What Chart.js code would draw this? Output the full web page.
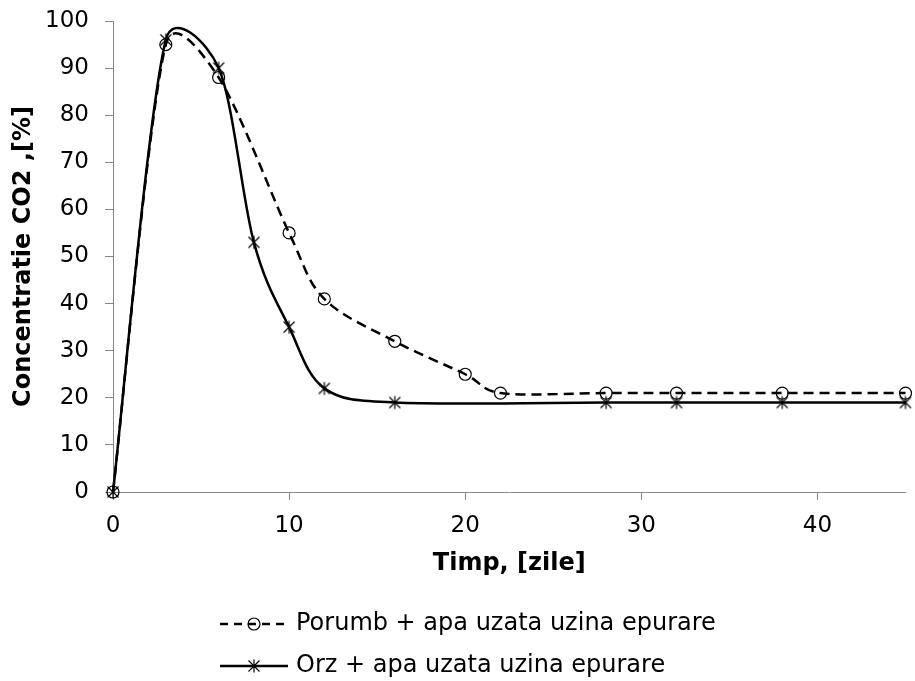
<!DOCTYPE html>
<html>
<head>
<meta charset="utf-8">
<script src="https://cdn.jsdelivr.net/npm/chart.js@4"></script>
<style>
  html, body { margin: 0; padding: 0; background: #fff; }
  #wrap { width: 915px; height: 681px; }
</style>
</head>
<body>
<div id="wrap"><canvas id="myChart" width="915" height="681"></canvas></div>
<script>
// data
var porumbX = [0, 3, 6, 10, 12, 16, 20, 22, 28, 32, 38, 45];
var porumbY = [0, 95, 88, 55, 41, 32, 25, 21, 21, 21, 21, 21];
var orzX = [0, 3, 6, 8, 10, 12, 16, 28, 32, 38, 45];
var orzY = [0, 96, 90, 53, 35, 22, 19, 19, 19, 19, 19];
var xTicks = [0, 10, 20, 30, 40];
var seriesNames = ['Porumb + apa uzata uzina epurare', 'Orz + apa uzata uzina epurare'];

function toPoints(xs, ys) {
  return xs.map(function (x, i) { return { x: x, y: ys[i] }; });
}

// excel-like star marker (x with vertical bar)
function starPath(ctx, cx, cy, r) {
  ctx.moveTo(cx - r, cy - r); ctx.lineTo(cx + r, cy + r);
  ctx.moveTo(cx + r, cy - r); ctx.lineTo(cx - r, cy + r);
  ctx.moveTo(cx, cy - r - 1); ctx.lineTo(cx, cy + r + 1);
}
function makeStar() {
  var c = document.createElement('canvas');
  c.width = 16; c.height = 16;
  var ctx = c.getContext('2d');
  ctx.strokeStyle = '#000'; ctx.lineWidth = 1.2;
  ctx.beginPath(); starPath(ctx, 8, 8, 5.5); ctx.stroke();
  return c;
}
// legend sample: line + marker
function makeLegendIcon(dashed, star) {
  var c = document.createElement('canvas');
  c.width = 68; c.height = 18;
  var ctx = c.getContext('2d');
  ctx.strokeStyle = '#000';
  ctx.lineWidth = 2.5;
  if (dashed) ctx.setLineDash([8, 6]);
  ctx.beginPath(); ctx.moveTo(0, 9); ctx.lineTo(68, 9); ctx.stroke();
  ctx.setLineDash([]);
  ctx.lineWidth = 1.2;
  ctx.beginPath();
  if (star) starPath(ctx, 34, 9, 5.5);
  else ctx.arc(34, 9, 6, 0, Math.PI * 2);
  ctx.stroke();
  return c;
}

var starImg = makeStar();
var legendIcons = [makeLegendIcon(true, false), makeLegendIcon(false, true)];

function dist(a, b) { return Math.hypot(b.x - a.x, b.y - a.y); }

// smoothing closer to the spreadsheet one (control points capped at half a segment)
var excelSmooth = {
  id: 'excelSmooth',
  beforeDatasetDraw: function (chart, args) {
    var meta = args.meta;
    var line = meta.dataset;
    if (!line) return;
    line.updateControlPoints(chart.chartArea, meta.iScale.axis);
    var pts = meta.data;
    for (var i = 0; i < pts.length - 1; i++) {
      var p0 = pts[i - 1] || pts[i], p1 = pts[i], p2 = pts[i + 1], p3 = pts[i + 2] || pts[i + 1];
      var d12 = dist(p1, p2), d02 = dist(p0, p2), d13 = dist(p1, p3);
      var f1 = (d02 / 6 < d12 / 2) ? 1 / 6 : d12 / (2 * d02);
      var f2 = (d13 / 6 < d12 / 2) ? 1 / 6 : d12 / (2 * d13);
      p1.cp2x = p1.x + (p2.x - p0.x) * f1;
      p1.cp2y = p1.y + (p2.y - p0.y) * f1;
      p2.cp1x = p2.x - (p3.x - p1.x) * f2;
      p2.cp1y = p2.y - (p3.y - p1.y) * f2;
    }
    line._path = undefined;
  }
};

// two-row legend under the axis title
var excelLegend = {
  id: 'excelLegend',
  afterDraw: function (chart) {
    var ctx = chart.ctx;
    var area = chart.chartArea;
    ctx.save();
    ctx.font = '24px "DejaVu Sans"';
    ctx.fillStyle = '#000';
    ctx.textBaseline = 'middle';
    var maxW = 0;
    seriesNames.forEach(function (s) { maxW = Math.max(maxW, ctx.measureText(s).width); });
    var iconW = 68, gap = 8;
    var x0 = Math.round((chart.width - (iconW + gap + maxW)) / 2) + 10;
    var y0 = area.bottom + 132, rowH = 42;
    seriesNames.forEach(function (s, i) {
      var y = y0 + i * rowH;
      ctx.drawImage(legendIcons[i], x0, y - 9);
      ctx.fillText(s, x0 + iconW + gap, y);
    });
    ctx.restore();
  }
};

Chart.defaults.font.family = 'DejaVu Sans';
Chart.defaults.color = '#000';

new Chart('myChart', {
  type: 'line',
  data: {
    datasets: [
      {
        label: seriesNames[0],
        data: toPoints(porumbX, porumbY),
        borderColor: '#000',
        borderWidth: 2.5,
        borderDash: [10, 6],
        tension: 0.4,
        clip: false,
        pointStyle: 'circle',
        pointRadius: 6,
        pointBorderWidth: 1.2,
        pointBorderColor: '#000',
        pointBackgroundColor: 'rgba(0,0,0,0)'
      },
      {
        label: seriesNames[1],
        data: toPoints(orzX, orzY),
        borderColor: '#000',
        borderWidth: 2.5,
        tension: 0.4,
        clip: false,
        pointStyle: starImg,
        pointRadius: 7,
        pointBorderColor: '#000',
        pointBackgroundColor: '#000'
      }
    ]
  },
  plugins: [excelSmooth, excelLegend],
  options: {
    responsive: false,
    animation: false,
    layout: { padding: { top: 21, right: 9, left: 0, bottom: 90 } },
    plugins: {
      tooltip: { enabled: false },
      legend: { display: false }
    },
    scales: {
      x: {
        type: 'linear',
        min: 0,
        max: 45,
        afterBuildTicks: function (scale) {
          scale.ticks = xTicks.map(function (v) { return { value: v }; });
        },
        afterFit: function (scale) { scale.height = 99; },
        grid: { drawOnChartArea: false, drawTicks: true, tickLength: 8, color: '#888' },
        border: { color: '#888', width: 1 },
        ticks: { font: { size: 23 }, padding: 12 },
        title: { display: true, text: 'Timp, [zile]', font: { size: 24, weight: 'bold' }, padding: { top: 0, bottom: 13 } }
      },
      y: {
        min: 0,
        max: 100,
        afterFit: function (scale) {
          scale.width = 113;
          scale.paddingTop = 0;
          scale.paddingBottom = 0;
        },
        grid: { drawOnChartArea: false, drawTicks: true, tickLength: 8, color: '#888' },
        border: { color: '#888', width: 1 },
        ticks: { stepSize: 10, font: { size: 23 }, padding: 16 },
        title: { display: true, text: 'Concentratie CO2 ,[%]', font: { size: 24, weight: 'bold' }, padding: { top: 9, bottom: 0 } }
      }
    }
  }
});
</script>
</body>
</html>
